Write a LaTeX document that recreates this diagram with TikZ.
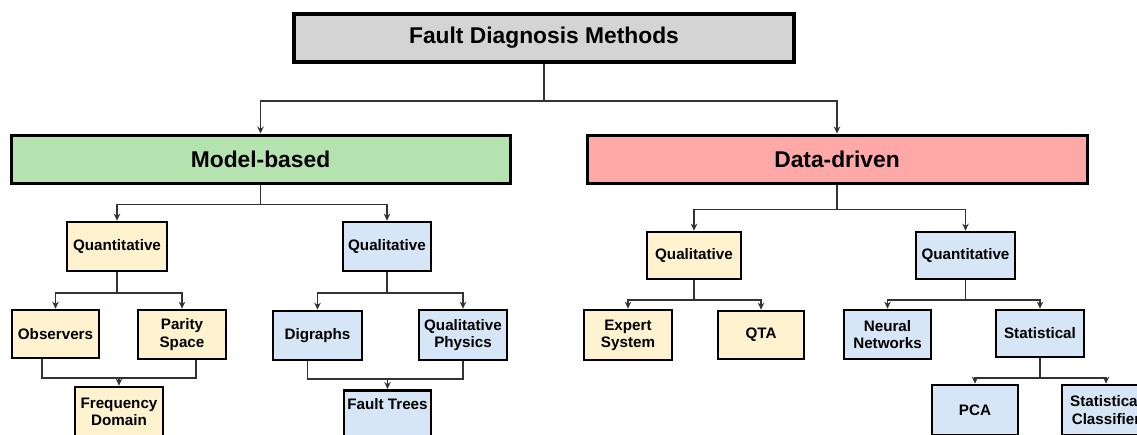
\documentclass[tikz,border=0pt]{standalone}
\usepackage{fontspec}
\setmainfont{Liberation Sans}
\usepackage{tikz}
\usetikzlibrary{arrows.meta}
\usetikzlibrary{calc}
\usetikzlibrary{positioning}
\definecolor{cgray}{HTML}{D4D4D4}
\definecolor{cgreen}{HTML}{B4E3AF}
\definecolor{cred}{HTML}{FFA8A8}
\definecolor{ccream}{HTML}{FFF2CF}
\definecolor{cblue}{HTML}{D7E6F6}

\begin{document}
\begin{tikzpicture}[x=1pt, y=-1pt, >={Stealth[length=7pt, width=6.5pt]}]

    \tikzstyle{blk} = [rectangle, draw=black, line width=2.7pt, inner sep=0pt, align=center, font=\fontsize{15.2}{17.3}\selectfont\bfseries, minimum width=88pt, minimum height=49pt]
    \tikzstyle{big} = [blk, line width=3pt, font=\fontsize{22.8}{26}\selectfont\bfseries, minimum width=500pt, minimum height=48pt]
    \tikzstyle{connector} = [->, line width=1.8pt, draw=black!80]
    \tikzstyle{line} = [line width=1.8pt, draw=black!80]

    \useasboundingbox (0,0) rectangle (1137,434);
    \fill[white] (0,0) rectangle (1137,434);
    \clip (0,0) rectangle (1137,434);

    % Boxes: top and first level %%%%%%%%%%%%%%%%%%%%%%%%%%%%%%%%%%%%%%%%%%%%%%%%%%%%%%%%
    \node[big, fill=cgray, line width=3.6pt] (boxT) at (544,38) {Fault Diagnosis Methods};
    \node[big, fill=cgreen, minimum width=499pt] (boxM) at (260.5,159) {Model-based};
    \node[big, fill=cred] (boxD) at (837,159) {Data-driven};

    % Model-based branch
    \node[blk, fill=ccream, minimum width=100pt] (boxM1) at (117,246.5) {Quantitative};
    \node[blk, fill=cblue] (boxM2) at (387,246.5) {Qualitative};
    \node[blk, fill=ccream, minimum width=87pt, minimum height=48pt] (boxM11) at (55.5,334) {Observers};
    \node[blk, fill=ccream] (boxM12) at (182,334.5) {Parity\\Space};
    \node[blk, fill=ccream] (boxM13) at (119,411.5) {Frequency\\Domain};
    \node[blk, fill=cblue, minimum width=89pt] (boxM21) at (317.5,335.5) {Digraphs};
    \node[blk, fill=cblue, minimum height=50pt] (boxM22) at (463,335) {Qualitative\\Physics};
    \node[blk, fill=cblue, minimum width=87pt, anchor=north, inner ysep=8.5pt, text height=11pt, text depth=30pt] (boxM23) at (387.5,389) {Fault Trees};

    % Data-driven branch
    \node[blk, fill=ccream, minimum width=94pt, minimum height=47pt] (boxD1) at (694,255.5) {Qualitative};
    \node[blk, fill=cblue, minimum width=99pt, minimum height=47pt] (boxD2) at (965.5,255.5) {Quantitative};
    \node[blk, fill=ccream, minimum height=50pt] (boxD11) at (628,335) {Expert\\System};
    \node[blk, fill=ccream, minimum width=86pt, minimum height=48pt] (boxD12) at (761,335) {QTA};
    \node[blk, fill=cblue, minimum width=87pt] (boxD21) at (887.5,334.5) {Neural\\Networks};
    \node[blk, fill=cblue, minimum height=47pt] (boxD22) at (1040,333.5) {Statistical};
    \node[blk, fill=cblue, minimum width=86pt, minimum height=50pt] (boxD221) at (975,410) {PCA};
    \node[blk, fill=cblue, minimum height=50pt] (boxD222) at (1106,410) {Statistical\\Classifier};

    % Now link the nodes %%%%%%%%%%%%%%%%%%%%%%%%%%%%%%%%%%%%%%%%%%%%%%%%%%%%%%%%%%%%%%%%
    \draw [line]      (boxT.south) -- ++(0,37) coordinate (jT);
    \draw [connector] (jT) -| (boxM.north);
    \draw [connector] (jT) -| (boxD.north);

    \draw [line]      (boxM.south) -- ++(0,20) coordinate (jM);
    \draw [connector] (jM) -| (boxM1.north);
    \draw [connector] (jM) -| (boxM2.north);

    \draw [line]      (boxD.south) -- ++(0,25) coordinate (jD);
    \draw [connector] (jD) -| (boxD1.north);
    \draw [connector] (jD) -| (boxD2.north);

    \draw [line]      (boxM1.south) -- ++(0,21) coordinate (jM1);
    \draw [connector] (jM1) -| (boxM11.north);
    \draw [connector] (jM1) -| (boxM12.north);

    \draw [line]      (boxM2.south) -- ++(0,21) coordinate (jM2);
    \draw [connector] (jM2) -| (boxM21.north);
    \draw [connector] (jM2) -| (boxM22.north);

    \draw [line]      (boxD1.south) -- ++(0,20) coordinate (jD1);
    \draw [connector] (jD1) -| (boxD11.north);
    \draw [connector] (jD1) -| (boxD12.north);

    \draw [line]      (boxD2.south) -- ++(0,20) coordinate (jD2);
    \draw [connector] (jD2) -| (boxD21.north);
    \draw [connector] (jD2) -| (boxD22.north);

    \draw [line]      (boxD22.south) -- ++(0,20) coordinate (jD22);
    \draw [connector] (jD22) -| (boxD221.north);
    \draw [connector] (jD22) -| (boxD222.north);

    % merging links
    \draw [line]      ([xshift=-13.5pt]boxM11.south) -- ++(0,19) coordinate (kM1) -| ([xshift=14pt]boxM12.south);
    \draw [connector] (kM1 -| boxM13.north) -- (boxM13.north);
    \draw [line]      ([xshift=-10pt]boxM21.south) -- ++(0,18) coordinate (kM2) -| (boxM22.south);
    \draw [connector] (kM2 -| boxM23.north) -- (boxM23.north);

\end{tikzpicture}
\end{document}
